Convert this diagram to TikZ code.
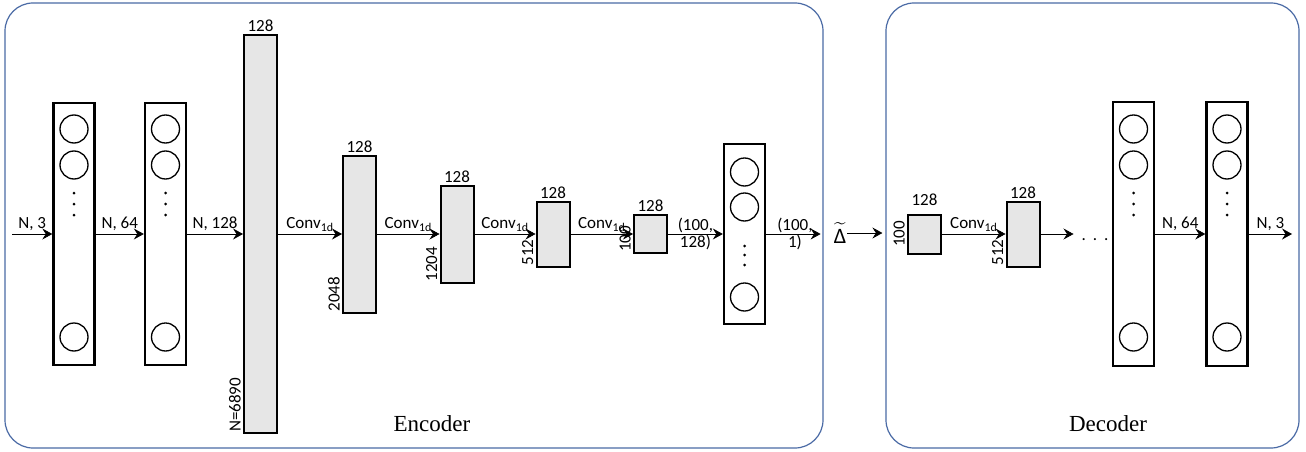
\documentclass[tikz,border=0pt]{standalone}
\usepackage{amsmath}
\usepackage{fontspec}
\setmainfont{Carlito}
\newfontfamily\titlefont{Liberation Serif}
\usetikzlibrary{positioning,arrows.meta}
\definecolor{panelblue}{HTML}{4A6AA5}
\definecolor{convgray}{HTML}{E6E6E6}

\begin{document}
\begin{tikzpicture}[x=1pt,y=-1pt,
  font=\fontsize{17}{17}\selectfont,
  panel/.style={draw=panelblue, line width=1.2pt, rounded corners=28pt, inner sep=0pt},
  layer/.style={draw, line width=2.4pt, minimum width=41pt, inner sep=0pt},
  conv/.style={draw, line width=2pt, fill=convgray, minimum width=33pt, inner sep=0pt},
  unit/.style={circle, draw, line width=1.3pt, minimum size=28pt, inner sep=0pt},
  flow/.style={-{Stealth[length=10pt,width=11pt,inset=3.5pt]}, line width=0.7pt},
  lab/.style={above, inner sep=2.5pt},
  size/.style={inner sep=2pt},
  side/.style={rotate=90, anchor=south west, inner sep=2pt},
  title/.style={font=\titlefont\fontsize{23}{23}\selectfont}
]
  \useasboundingbox (0,0) rectangle (1306,452);

  % panels
  \node[panel, minimum width=818pt, minimum height=445pt] (enc) at (414,225.5) {}; %
  \node[panel, minimum width=413pt, minimum height=445pt] (dec) at (1092.5,225.5) {}; %
  \node[title] (enct) at (432,424) {Encoder}; %
  \node[title] (dect) at (1108,424) {Decoder}; %

  % encoder
  \node[layer, minimum height=262pt] (l1) at (74,234) {}; %
  \node[layer, minimum height=262pt] (l2) at (165.5,234) {}; %
  \node[conv, minimum height=398pt] (c1) at (260.5,234) {}; %
  \node[conv, minimum height=157pt] (c2) at (359.5,234) {}; %
  \node[conv, minimum height=97pt] (c3) at (457,234) {}; %
  \node[conv, minimum height=65pt] (c4) at (553,234) {}; %
  \node[conv, minimum height=38pt] (c5) at (650.5,234) {}; %
  \node[layer, minimum height=180pt] (l3) at (744.5,234) {}; %

  % decoder
  \node[conv, minimum height=39pt] (d1) at (924.5,234) {}; %
  \node[conv, minimum height=65pt] (d2) at (1023,234) {}; %
  \node (gap) at (1095,240) {.\hspace{7pt}.\hspace{7pt}.}; %
  \node[layer, minimum height=264pt] (l4) at (1133.5,234) {}; %
  \node[layer, minimum height=264pt] (l5) at (1227,234) {}; %

  % units
  \foreach \col in {l1,l2,l4,l5} {
    \path (\col) ++(0,-105) node[unit] (\col-a) {}; %
    \path (\col) ++(0,-69) node[unit] (\col-b) {}; %
    \path (\col) ++(0,103) node[unit] (\col-n) {}; %
    \foreach \dy in {-41,-30,-19} \fill (\col) ++(0,\dy) circle (1.5pt);
  }
  \path (l3) ++(0,-62) node[unit] (l3-a) {}; %
  \path (l3) ++(0,-27) node[unit] (l3-b) {}; %
  \path (l3) ++(0,63) node[unit] (l3-n) {}; %
  \foreach \dy in {12,21,31} \fill (l3) ++(0,\dy) circle (1.5pt);

  % sizes
  \node[size, above=0pt of c1] (c1w) {128}; %
  \node[size, above=0pt of c2] (c2w) {128}; %
  \node[size, above=0pt of c3] (c3w) {128}; %
  \node[size, above=0pt of c4] (c4w) {128}; %
  \node[size, above=0pt of c5] (c5w) {128}; %
  \node[size, above=6pt of d1] (d1w) {128}; %
  \node[size, above=0pt of d2] (d2w) {128}; %
  \node[side] (c1h) at (c1.south west) {N=6890}; %
  \node[side] (c2h) at (c2.south west) {2048}; %
  \node[side] (c3h) at (c3.south west) {1204}; %
  \node[side] (c4h) at (c4.south west) {512}; %
  \node[side] (c5h) at (c5.south west) {100}; %
  \node[rotate=90, anchor=south, inner sep=2pt] (d1h) at (d1.west) {100}; %
  \node[side] (d2h) at (d2.south west) {512}; %

  % flow
  \coordinate (in) at (12,234); %
  \coordinate (out) at (1292,234); %
  \coordinate[right=33pt of d2.east] (d2o); %
  \node[font=\fontsize{22}{22}\selectfont, inner sep=1pt] (dt) at (840,233) {$\widetilde{\text{Δ}}$}; %

  \draw[flow] (in) -- node[lab] {N, 3} (l1); %
  \draw[flow] (l1) -- node[lab] {N, 64} (l2); %
  \draw[flow] (l2) -- node[lab] {N, 128} (c1); %
  \draw[flow] (c1) -- node[lab] {Conv\textsubscript{1d}} (c2); %
  \draw[flow] (c2) -- node[lab] {Conv\textsubscript{1d}} (c3); %
  \draw[flow] (c3) -- node[lab] {Conv\textsubscript{1d}} (c4); %
  \draw[flow] (c4) -- node[lab] {Conv\textsubscript{1d}} (c5); %
  \draw[flow] (c5) -- node[align=center, inner sep=0pt] {(100,\\128)} (l3); %
  \draw[flow, shorten >=3pt] (l3) -- node[align=center, inner sep=0pt] {(100,\\1)} (l3 -| enc.east); %
  \draw[flow, shorten >=3pt] (dt) -- (dt -| dec.west); %
  \draw[flow] (d1) -- node[lab] {Conv\textsubscript{1d}} (d2); %
  \draw[flow] (d2) -- (d2o); %
  \draw[flow] (l4) -- node[lab] {N, 64} (l5); %
  \draw[flow] (l5) -- node[lab] {N, 3} (out); %

\end{tikzpicture}
\end{document}
